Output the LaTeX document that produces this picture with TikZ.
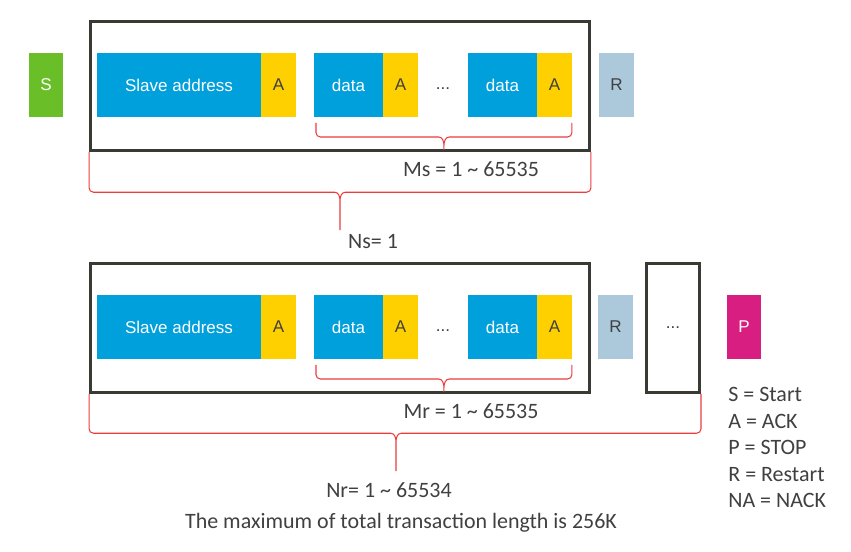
\documentclass[tikz,border=0pt]{standalone}
\usepackage{fontspec}
\setmainfont{Carlito}
\newfontfamily\boxfont{Liberation Sans}
\usetikzlibrary{positioning,calc}
\definecolor{fieldblue}{RGB}{0,160,220}
\definecolor{ackyellow}{RGB}{255,208,0}
\definecolor{startgreen}{RGB}{106,190,40}
\definecolor{restartblue}{RGB}{171,201,219}
\definecolor{stopmagenta}{RGB}{216,30,128}
\definecolor{framegray}{RGB}{58,58,52}
\definecolor{bracered}{RGB}{236,60,60}
\definecolor{textgray}{RGB}{64,64,64}
\tikzset{
	field/.style={
		rectangle, inner sep=0pt, outer sep=0pt,
		minimum height=1.28cm, fill=fieldblue, text=white,
		font=\boxfont\fontsize{9.7pt}{11pt}\selectfont,
	},
	ack/.style={field, fill=ackyellow, text=textgray, minimum width=0.7cm},
	frame/.style={
		rectangle, draw=framegray, line width=1.7pt, inner sep=0pt,
		text=textgray, font=\boxfont\fontsize{9.7pt}{11pt}\selectfont,
	},
	brace/.style={draw=bracered, line width=0.6pt},
	note/.style={text=textgray, inner sep=0pt, font=\fontsize{12.5pt}{15.1pt}\selectfont},
}
% curly brace: #1 left end, #2 right end, #3 drop to the bar, #4 tip
\newcommand{\redbrace}[4]{%
	\path [brace] let \p1=(#1), \p2=(#2), \p3=(#4), \p4=($(#1)+(0,#3)$) in
		(\p1) -- (\x1,\y4+2.5pt) to[out=-90,in=180] (\x1+2.5pt,\y4)
		-- (\x3-3pt,\y4) to[out=0,in=90] (\x3,\y4-5pt) -- (\p3)
		-- (\x3,\y4-5pt) to[out=90,in=180] (\x3+3pt,\y4)
		-- (\x2-2.5pt,\y4) to[out=0,in=-90] (\x2,\y4+2.5pt) -- (\p2);
}

\begin{document}
\begin{tikzpicture}[x=0.02cm, y=-0.02cm]
	\useasboundingbox (0,0) rectangle (851,551);
	
	% first message: one slave address
	\node [frame, minimum width=9.98cm, minimum height=2.59cm] (msgS) at (340,86) {};
	\node [field, fill=startgreen, minimum width=0.68cm] (start) at (46,85) {S};
	\node [field, minimum width=3.28cm] (addrS) at (179,85) {Slave address};
	\node [ack, right=0pt of addrS] (ackS0) {A};
	\node [field, minimum width=1.38cm, right=0.36cm of ackS0] (dataS1) {data};
	\node [ack, right=0pt of dataS1] (ackS1) {A};
	\node [field, minimum width=1.38cm, right=1cm of ackS1] (dataS2) {data};
	\node [ack, right=0pt of dataS2] (ackS2) {A};
	\node [frame, draw=none, line width=0pt, anchor=base] (dotsS) at ($(ackS1.east)!0.5!(dataS2.west)+(0,4)$) {...};
	\node [field, fill=restartblue, text=textgray, minimum width=0.7cm, right=0.54cm of ackS2] (restartS) {R};
	
	% repeated messages
	\node [frame, minimum width=9.98cm, minimum height=2.59cm] (msgR) at (340,328) {};
	\node [field, minimum width=3.28cm] (addrR) at (179,327) {Slave address};
	\node [ack, right=0pt of addrR] (ackR0) {A};
	\node [field, minimum width=1.38cm, right=0.36cm of ackR0] (dataR1) {data};
	\node [ack, right=0pt of dataR1] (ackR1) {A};
	\node [field, minimum width=1.38cm, right=1cm of ackR1] (dataR2) {data};
	\node [ack, right=0pt of dataR2] (ackR2) {A};
	\node [frame, draw=none, line width=0pt, anchor=base] (dotsR) at ($(ackR1.east)!0.5!(dataR2.west)+(0,4)$) {...};
	\node [field, fill=restartblue, text=textgray, minimum width=0.7cm, right=0.52cm of ackR2] (restartR) {R};
	\node [frame, minimum width=1.06cm, minimum height=2.59cm] (more) at (673,328) {...};
	\node [field, fill=stopmagenta, minimum width=0.68cm] (stop) at (744,327) {P};
	
	% labels
	\node [note, anchor=base] (ms) at (471,176) {Ms = 1 \textasciitilde{} 65535};
	\node [note, anchor=base] (ns) at (373,248) {Ns= 1};
	\node [note, anchor=base] (mr) at (471,418) {Mr = 1 \textasciitilde{} 65535};
	\node [note, anchor=base] (nr) at (389,497) {Nr= 1 \textasciitilde{} 65534};
	\node [note, anchor=base] (total) at (401,528) {The maximum of total transaction length is 256K};
	\node [note, anchor=north west, align=left] (key) at (728,387)
		{S = Start\\A = ACK\\P = STOP\\R = Restart\\NA = NACK};
	
	% brace ends and tips
	\coordinate (msL) at ([xshift=0.04cm, yshift=-0.12cm]dataS1.south west);
	\coordinate (msR) at ([yshift=-0.12cm]ackS2.south east);
	\coordinate (msTip) at ($(msL)!0.5!(msR)+(0,27)$);
	\coordinate (nsTip) at (340,230);
	\coordinate (mrL) at ([xshift=0.04cm, yshift=-0.12cm]dataR1.south west);
	\coordinate (mrR) at ([yshift=-0.12cm]ackR2.south east);
	\coordinate (mrTip) at ($(mrL)!0.5!(mrR)+(0,27)$);
	\coordinate (nrTip) at (396,471);
	
	\redbrace{msL}{msR}{14}{msTip}
	\redbrace{msgS.south west}{msgS.south east}{40}{nsTip}
	\redbrace{mrL}{mrR}{14}{mrTip}
	\redbrace{msgR.south west}{more.south east}{39}{nrTip}
\end{tikzpicture}
\end{document}
